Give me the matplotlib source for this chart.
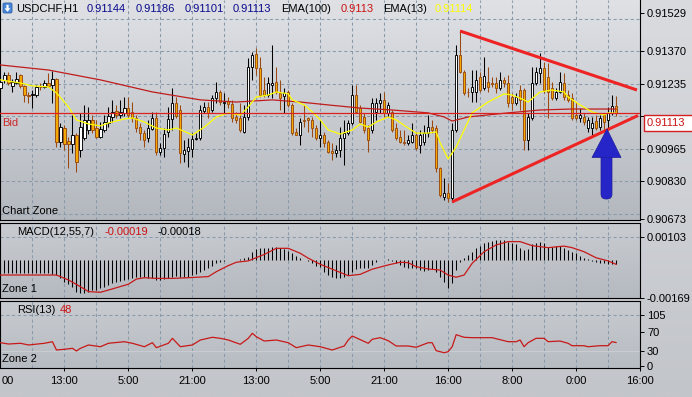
import numpy as np
import matplotlib
matplotlib.use("Agg")
import matplotlib.pyplot as plt
from matplotlib.patches import Rectangle, Polygon, FancyBboxPatch
from matplotlib.colors import to_rgb

plt.rcParams['font.family'] = ['Liberation Sans', 'DejaVu Sans']

# ---------------- data (USDCHF H1) ----------------
opens = [
    0.91218, 0.91252, 0.91272, 0.91227, 0.91239, 0.91272, 0.91227, 0.91189, 0.91189, 0.91189,
    0.91223, 0.91223, 0.91239, 0.91231, 0.91256, 0.90994, 0.91052, 0.90998, 0.90986, 0.91023,
    0.90961, 0.91011, 0.91044, 0.91086, 0.91052, 0.91015, 0.91044, 0.91073, 0.91098, 0.91123,
    0.91106, 0.91115, 0.91135, 0.91119, 0.91094, 0.91056, 0.91031, 0.91011, 0.91048, 0.91094,
    0.90953, 0.90969, 0.91036, 0.91090, 0.91156, 0.91127, 0.90944, 0.90957, 0.90965, 0.91007,
    0.91011, 0.91123, 0.91140, 0.91127, 0.91177, 0.91202, 0.91156, 0.91164, 0.91152, 0.91098,
    0.91094, 0.91036, 0.91098, 0.91306, 0.91360, 0.91302, 0.91210, 0.91189, 0.91231, 0.91243,
    0.91198, 0.91185, 0.91202, 0.91148, 0.91036, 0.91023, 0.91086, 0.91094, 0.91086, 0.91052,
    0.91011, 0.91023, 0.90994, 0.90957, 0.90948, 0.90961, 0.91011, 0.91031, 0.91073, 0.91189,
    0.91135, 0.91098, 0.91052, 0.91044, 0.91119, 0.91156, 0.91169, 0.91115, 0.91119, 0.91052,
    0.91015, 0.90994, 0.90990, 0.90994, 0.91023, 0.90982, 0.90994, 0.91031, 0.91056, 0.91052,
    0.90886, 0.90766, 0.90782, 0.90762, 0.91044, 0.91356, 0.91285, 0.91202, 0.91202, 0.91202,
    0.91264, 0.91218, 0.91243, 0.91239, 0.91239, 0.91218, 0.91252, 0.91239, 0.91181, 0.91156,
    0.91210, 0.91210, 0.91002, 0.91094, 0.91239, 0.91281, 0.91302, 0.91264, 0.91218, 0.91177,
    0.91202, 0.91239, 0.91189, 0.91177, 0.91106, 0.91094, 0.91098, 0.91052, 0.91052, 0.91081,
    0.91056, 0.91106, 0.91086, 0.91115, 0.91144]
highs = [
    0.91260, 0.91285, 0.91285, 0.91256, 0.91285, 0.91277, 0.91231, 0.91202, 0.91210, 0.91231,
    0.91239, 0.91252, 0.91281, 0.91289, 0.91260, 0.91073, 0.91065, 0.91015, 0.91106, 0.91031,
    0.91115, 0.91148, 0.91140, 0.91106, 0.91086, 0.91077, 0.91106, 0.91140, 0.91169, 0.91148,
    0.91169, 0.91181, 0.91181, 0.91160, 0.91106, 0.91073, 0.91044, 0.91086, 0.91119, 0.91119,
    0.90990, 0.91052, 0.91140, 0.91218, 0.91181, 0.91148, 0.91002, 0.91011, 0.91031, 0.91031,
    0.91148, 0.91160, 0.91160, 0.91189, 0.91243, 0.91210, 0.91198, 0.91181, 0.91169, 0.91119,
    0.91156, 0.91148, 0.91343, 0.91368, 0.91385, 0.91347, 0.91264, 0.91264, 0.91397, 0.91306,
    0.91252, 0.91218, 0.91210, 0.91156, 0.91052, 0.91094, 0.91148, 0.91098, 0.91098, 0.91065,
    0.91086, 0.91036, 0.91002, 0.90990, 0.90982, 0.91056, 0.91086, 0.91086, 0.91231, 0.91231,
    0.91148, 0.91115, 0.91065, 0.91177, 0.91177, 0.91198, 0.91202, 0.91160, 0.91127, 0.91073,
    0.91044, 0.91044, 0.91023, 0.91073, 0.91036, 0.91044, 0.91065, 0.91106, 0.91086, 0.91065,
    0.90890, 0.90845, 0.90824, 0.91073, 0.91397, 0.91459, 0.91293, 0.91218, 0.91293, 0.91293,
    0.91285, 0.91347, 0.91306, 0.91264, 0.91264, 0.91285, 0.91264, 0.91272, 0.91198, 0.91198,
    0.91231, 0.91218, 0.91115, 0.91306, 0.91306, 0.91364, 0.91326, 0.91322, 0.91243, 0.91218,
    0.91285, 0.91281, 0.91210, 0.91198, 0.91160, 0.91135, 0.91115, 0.91098, 0.91098, 0.91106,
    0.91106, 0.91115, 0.91140, 0.91189, 0.91186]
lows = [
    0.91202, 0.91239, 0.91231, 0.91202, 0.91235, 0.91218, 0.91160, 0.91156, 0.91135, 0.91181,
    0.91210, 0.91218, 0.91223, 0.91156, 0.90973, 0.90973, 0.90961, 0.90886, 0.90948, 0.90870,
    0.90932, 0.91002, 0.91027, 0.91031, 0.91011, 0.91011, 0.91036, 0.91056, 0.91077, 0.91094,
    0.91094, 0.91102, 0.91094, 0.91077, 0.91036, 0.91002, 0.90973, 0.90994, 0.91044, 0.90940,
    0.90940, 0.90932, 0.91015, 0.91044, 0.91094, 0.90907, 0.90911, 0.90890, 0.90932, 0.91002,
    0.91002, 0.91115, 0.91094, 0.91119, 0.91156, 0.91148, 0.91115, 0.91135, 0.91077, 0.91073,
    0.91036, 0.91031, 0.91086, 0.91252, 0.91272, 0.91181, 0.91181, 0.91181, 0.91177, 0.91194,
    0.91127, 0.91115, 0.91140, 0.91023, 0.91023, 0.90982, 0.91056, 0.91036, 0.91015, 0.91002,
    0.90973, 0.90973, 0.90948, 0.90919, 0.90932, 0.90932, 0.90899, 0.91023, 0.91065, 0.91115,
    0.91073, 0.91031, 0.90953, 0.91031, 0.91086, 0.91115, 0.91098, 0.91098, 0.91036, 0.91002,
    0.90990, 0.90982, 0.90982, 0.90990, 0.90961, 0.90948, 0.90982, 0.91015, 0.91031, 0.90870,
    0.90766, 0.90753, 0.90745, 0.90745, 0.91036, 0.91281, 0.91189, 0.91181, 0.91160, 0.91160,
    0.91202, 0.91210, 0.91202, 0.91223, 0.91198, 0.91210, 0.91223, 0.91140, 0.91127, 0.91148,
    0.91127, 0.90961, 0.90961, 0.91086, 0.91231, 0.91239, 0.91198, 0.91094, 0.91169, 0.91169,
    0.91198, 0.91169, 0.91160, 0.91086, 0.91086, 0.91077, 0.91065, 0.91036, 0.91015, 0.91044,
    0.91044, 0.91044, 0.91052, 0.91106, 0.91101]
closes = [
    0.91243, 0.91272, 0.91239, 0.91243, 0.91256, 0.91227, 0.91189, 0.91187, 0.91194, 0.91223,
    0.91221, 0.91239, 0.91227, 0.91256, 0.90994, 0.91056, 0.90986, 0.90986, 0.91023, 0.90911,
    0.91056, 0.91086, 0.91086, 0.91044, 0.91015, 0.91048, 0.91077, 0.91102, 0.91119, 0.91106,
    0.91119, 0.91135, 0.91106, 0.91094, 0.91052, 0.91031, 0.91002, 0.91052, 0.91094, 0.90953,
    0.90969, 0.91027, 0.91090, 0.91156, 0.91102, 0.90948, 0.90961, 0.90973, 0.91007, 0.91011,
    0.91127, 0.91140, 0.91115, 0.91177, 0.91202, 0.91160, 0.91160, 0.91152, 0.91094, 0.91086,
    0.91044, 0.91098, 0.91306, 0.91356, 0.91302, 0.91189, 0.91189, 0.91239, 0.91239, 0.91202,
    0.91177, 0.91198, 0.91148, 0.91031, 0.91023, 0.91077, 0.91083, 0.91086, 0.91052, 0.91011,
    0.91023, 0.90990, 0.90953, 0.90948, 0.90961, 0.91011, 0.91031, 0.91073, 0.91189, 0.91119,
    0.91077, 0.91044, 0.91002, 0.91156, 0.91156, 0.91169, 0.91115, 0.91148, 0.91044, 0.91011,
    0.90994, 0.90990, 0.91002, 0.91023, 0.90969, 0.91023, 0.91031, 0.91056, 0.91044, 0.90886,
    0.90774, 0.90782, 0.90762, 0.91044, 0.91356, 0.91285, 0.91198, 0.91200, 0.91223, 0.91252,
    0.91210, 0.91268, 0.91223, 0.91235, 0.91218, 0.91252, 0.91239, 0.91156, 0.91156, 0.91181,
    0.91169, 0.91002, 0.91098, 0.91239, 0.91285, 0.91302, 0.91210, 0.91202, 0.91177, 0.91202,
    0.91243, 0.91181, 0.91169, 0.91094, 0.91094, 0.91106, 0.91077, 0.91086, 0.91073, 0.91052,
    0.91094, 0.91077, 0.91115, 0.91144, 0.91113]

ema13_idx = [0, 5, 8, 12, 14, 17, 19, 22, 25, 27, 31, 33, 36, 39, 42, 44, 47, 48, 51, 54,
             57, 60, 62, 64, 67, 69, 72, 73, 76, 78, 80, 82, 85, 88, 90, 92, 94, 97, 99, 102,
             104, 107, 109, 110, 112, 114, 116, 118, 122, 126, 128, 131, 132, 135, 138, 141,
             142, 145, 148, 151, 152, 154]
ema13_val = [0.91252, 0.91239, 0.91227, 0.91223, 0.91198, 0.91140, 0.91086, 0.91069, 0.91061,
             0.91073, 0.91090, 0.91094, 0.91077, 0.91052, 0.91044, 0.91052, 0.91031, 0.91023,
             0.91056, 0.91098, 0.91115, 0.91106, 0.91140, 0.91181, 0.91189, 0.91202, 0.91194,
             0.91169, 0.91148, 0.91119, 0.91086, 0.91044, 0.91027, 0.91044, 0.91069, 0.91056,
             0.91077, 0.91098, 0.91086, 0.91052, 0.91031, 0.91031, 0.91036, 0.90990, 0.90924,
             0.90973, 0.91044, 0.91115, 0.91160, 0.91194, 0.91189, 0.91169, 0.91160, 0.91202,
             0.91210, 0.91202, 0.91181, 0.91148, 0.91119, 0.91106, 0.91115, 0.91114]

ema100_idx = [0, 12, 25, 38, 50, 59, 68, 75, 82, 90, 98, 107, 111, 113, 117, 127, 135, 143, 154]
ema100_val = [0.91314, 0.91293, 0.91252, 0.91202, 0.91169, 0.91160, 0.91169, 0.91160, 0.91148,
              0.91135, 0.91127, 0.91115, 0.91098, 0.91081, 0.91098, 0.91115, 0.91127, 0.91131,
              0.91131]

bid_price = 0.91113
upper_line_idx = [115, 159.25]
upper_line_val = [0.91455, 0.91210]
lower_line_idx = [113, 159.5]
lower_line_val = [0.90745, 0.91104]

macd_hist = [
    -0.00058, -0.00058, -0.00058, -0.00058, -0.00058, -0.00058, -0.00058, -0.00058, -0.00058, -0.00058,
    -0.00058, -0.00058, -0.00058, -0.00062, -0.00067, -0.00080, -0.00098, -0.00107, -0.00120, -0.00143,
    -0.00147, -0.00147, -0.00143, -0.00134, -0.00134, -0.00125, -0.00120, -0.00112, -0.00103, -0.00098,
    -0.00094, -0.00089, -0.00085, -0.00080, -0.00076, -0.00076, -0.00076, -0.00080, -0.00080, -0.00089,
    -0.00089, -0.00085, -0.00080, -0.00076, -0.00071, -0.00076, -0.00076, -0.00076, -0.00067, -0.00062,
    -0.00054, -0.00045, -0.00036, -0.00027, -0.00013, -0.00009, -0.00004, -0.00002, 0.00002, 0.00002,
    0.00004, 0.00007, 0.00013, 0.00036, 0.00049, 0.00054, 0.00054, 0.00054, 0.00058, 0.00058,
    0.00054, 0.00049, 0.00040, 0.00031, 0.00018, 0.00009, 0.00002, -0.00004, -0.00013, -0.00027,
    -0.00031, -0.00054, -0.00067, -0.00076, -0.00080, -0.00080, -0.00076, -0.00067, -0.00054, -0.00040,
    -0.00036, -0.00036, -0.00036, -0.00022, -0.00009, -0.00002, 0.00002, 0.00004, -0.00004, -0.00013,
    -0.00022, -0.00031, -0.00036, -0.00036, -0.00036, -0.00045, -0.00049, -0.00045, -0.00040, -0.00054,
    -0.00076, -0.00098, -0.00125, -0.00103, -0.00045, -0.00009, 0.00009, 0.00022, 0.00036, 0.00054,
    0.00062, 0.00076, 0.00080, 0.00085, 0.00089, 0.00089, 0.00089, 0.00080, 0.00076, 0.00071,
    0.00054, 0.00045, 0.00049, 0.00071, 0.00076, 0.00080, 0.00076, 0.00058, 0.00058, 0.00062,
    0.00062, 0.00054, 0.00045, 0.00036, 0.00031, 0.00018, 0.00009, 0.00004, -0.00004, -0.00009,
    -0.00013, -0.00013, -0.00018, -0.00018, -0.00018]
signal_idx = [0, 14, 17, 20, 22, 25, 27, 32, 34, 36, 39, 43, 47, 52, 54, 57, 59, 62, 66, 69,
              72, 75, 77, 80, 83, 87, 90, 93, 97, 100, 102, 104, 107, 110, 112, 114, 116, 118,
              121, 124, 127, 130, 133, 137, 141, 143, 146, 149, 152, 154]
signal_val = [-0.00067, -0.00067, -0.00089, -0.00119, -0.00141, -0.00144, -0.00134, -0.00108,
              -0.00085, -0.00079, -0.00082, -0.00082, -0.00079, -0.00074, -0.00052, -0.00025,
              -0.00010, -0.00004, 0.00025, 0.00052, 0.00052, 0.00030, 0.00008, -0.00019,
              -0.00041, -0.00070, -0.00064, -0.00041, -0.00022, -0.00010, -0.00012, -0.00030,
              -0.00040, -0.00045, -0.00067, -0.00077, -0.00067, -0.00015, 0.00037, 0.00067,
              0.00082, 0.00082, 0.00064, 0.00055, 0.00062, 0.00055, 0.00037, 0.00010, -0.00004,
              -0.00019]

rsi_idx = [0, 2, 5, 7, 11, 13, 14, 16, 18, 19, 20, 22, 25, 27, 31, 33, 36, 38, 39, 42, 43, 45,
           48, 50, 53, 55, 57, 60, 62, 63, 64, 66, 69, 72, 74, 77, 80, 83, 86, 87, 88, 92, 93,
           95, 97, 99, 102, 104, 107, 108, 109, 111, 112, 113, 114, 116, 118, 123, 127, 129,
           130, 131, 132, 134, 136, 137, 140, 142, 143, 146, 147, 150, 152, 153, 154]
rsi_val = [47.6, 44.9, 46.4, 42.9, 46.4, 49.7, 32.5, 34.0, 36.0, 30.4, 36.0, 42.9, 39.3, 46.4,
           49.7, 46.4, 39.3, 47.6, 37.3, 46.4, 56.7, 39.3, 42.9, 53.2, 58.8, 56.7, 53.2, 44.3,
           56.7, 67.1, 60.0, 51.1, 53.2, 47.6, 37.3, 42.9, 39.3, 32.5, 40.8, 53.2, 61.5, 46.4,
           54.7, 58.0, 51.8, 40.8, 40.8, 38.1, 47.6, 47.6, 31.1, 26.9, 29.0, 39.3, 64.2, 58.8,
           58.0, 58.0, 49.7, 49.7, 53.2, 39.3, 47.6, 56.7, 56.7, 49.7, 51.1, 46.4, 41.4, 41.4,
           39.3, 41.4, 41.4, 49.7, 48.0]

time_tick_idx = [16, 32, 48, 64, 80, 96, 112, 128, 144, 160]
time_tick_labels = ["13:00", "5:00", "21:00", "13:00", "5:00", "21:00", "16:00", "8:00", "0:00", "16:00"]
price_ticks = [0.91529, 0.91370, 0.91235, 0.91100, 0.90965, 0.90830, 0.90673]
price_grid = [0.91505, 0.91370, 0.91235, 0.91100, 0.90965, 0.90830, 0.90695]
macd_ticks = [0.00103, -0.00169]
rsi_ticks = [105, 70, 30, 0]

# ---------------- figure ----------------
W, H = 692, 397
fig = plt.figure(figsize=(W / 100, H / 100), dpi=100)


def gradient(ax, ctop, cbot):
    a = np.array(to_rgb(ctop))
    b = np.array(to_rgb(cbot))
    t = np.linspace(0, 1, 256)[:, None, None]
    img = a[None, None, :] * (1 - t) + b[None, None, :] * t
    ax.imshow(img, extent=[0, 1, 0, 1], transform=ax.transAxes, aspect='auto',
              zorder=0, interpolation='bilinear')


def px_axes(top, bottom, left=0, right=640):
    return fig.add_axes([left / W, 1 - bottom / H, (right - left) / W, (bottom - top) / H])


bg = fig.add_axes([0, 0, 1, 1])
gradient(bg, '#d9dbdf', '#c2c5ca')
bg.set_xlim(0, 1); bg.set_ylim(0, 1)
bg.axis('off')

XLIM = (-0.125, 160.0)
GRID_C = '#8a9aab'
DASH = (0, (3, 2.5))
grid_x = np.arange(8, 160, 8)

# ---- main price panel ----
ax = px_axes(0, 220)
gradient(ax, '#dfe1e5', '#b3b8be')
for gx in grid_x:
    ax.axvline(gx, color=GRID_C, lw=0.75, ls=DASH, zorder=1)
for gy in price_grid:
    ax.axhline(gy, color=GRID_C, lw=0.75, ls=DASH, zorder=1)

idx = np.arange(len(closes))
o = np.array(opens); c = np.array(closes); h = np.array(highs); l = np.array(lows)
bull = c >= o
wick_col = np.where(bull, '#000000', '#9a4a10')
ax.vlines(idx, l, h, colors=wick_col, lw=0.75, zorder=3)
body_lo = np.minimum(o, c)
body_h = np.maximum(np.abs(c - o), 0.00002)
ax.bar(idx[bull], body_h[bull], bottom=body_lo[bull], width=0.55, color='#ffffff',
       edgecolor='#000000', linewidth=0.65, zorder=4)
ax.bar(idx[~bull], body_h[~bull], bottom=body_lo[~bull], width=0.55, color='#f2a900',
       edgecolor='#9a4a10', linewidth=0.65, zorder=4)

ax.plot(ema100_idx, ema100_val, color='#c01c1c', lw=0.9, zorder=5)
ax.plot(ema13_idx, ema13_val, color='#ffff00', lw=0.9, zorder=5)
ax.axhline(bid_price, color='#dd2020', lw=0.9, zorder=5)
ax.plot(upper_line_idx, upper_line_val, color='#ee2424', lw=2.2, zorder=6, solid_capstyle='butt')
ax.plot(lower_line_idx, lower_line_val, color='#ee2424', lw=2.2, zorder=6, solid_capstyle='butt')

ax.set_xlim(*XLIM)
ax.set_ylim(0.906700, 0.915839)
ax.yaxis.tick_right()
ax.set_yticks(price_ticks)
# the 0.91100 label sits under the bid-price box in the reference, so only its tick shows
ax.set_yticklabels(["" if v == bid_price - 0.00013 or abs(v - 0.91100) < 1e-9 else f"{v:.5f}"
                    for v in price_ticks])
ax.tick_params(axis='y', length=3, width=0.7, pad=2, labelsize=8, colors='black')
ax.tick_params(axis='x', bottom=False, labelbottom=False)
for s in ['left', 'right', 'bottom']:
    ax.spines[s].set_color('black'); ax.spines[s].set_linewidth(0.8)
ax.spines['top'].set_visible(False)

# ---- MACD panel ----
ax2 = px_axes(223, 298)
gradient(ax2, '#c9ccd1', '#b5bac0')
for gx in grid_x:
    ax2.axvline(gx, color=GRID_C, lw=0.75, ls=DASH, zorder=1)
ax2.axhline(macd_ticks[0], color=GRID_C, lw=0.75, ls=DASH, zorder=1)
ax2.vlines(idx, 0, macd_hist, colors='black', lw=0.75, zorder=3)
ax2.plot(signal_idx, signal_val, color='#c81818', lw=0.9, zorder=4)
ax2.set_xlim(*XLIM)
ax2.set_ylim(-0.001695, 0.00165)
ax2.yaxis.tick_right()
ax2.set_yticks(macd_ticks)
ax2.set_yticklabels(["0.00103", "-0.00169"])
ax2.tick_params(axis='y', length=3, width=0.7, pad=2, labelsize=8)
ax2.tick_params(axis='x', bottom=False, labelbottom=False)
for s in ax2.spines.values():
    s.set_color('black'); s.set_linewidth(0.8)

# ---- RSI panel ----
ax3 = px_axes(301, 368)
gradient(ax3, '#c8cbd0', '#b7bcc2')
for gx in grid_x:
    ax3.axvline(gx, color=GRID_C, lw=0.75, ls=DASH, zorder=1)
ax3.axhline(rsi_ticks[0], color=GRID_C, lw=0.75, ls=DASH, zorder=1)
ax3.axhline(rsi_ticks[2], color='#c9cdd2', lw=0.8, zorder=1)
ax3.plot(rsi_idx, rsi_val, color='#c81818', lw=0.9, zorder=4)
ax3.set_xlim(*XLIM)
ax3.set_ylim(-4.76, 133.95)
ax3.yaxis.tick_right()
ax3.set_yticks(rsi_ticks)
ax3.set_yticklabels([str(v) for v in rsi_ticks])
ax3.tick_params(axis='y', length=3, width=0.7, pad=2, labelsize=8)
ax3.set_xticks(time_tick_idx)
ax3.set_xticklabels(time_tick_labels)
ax3.tick_params(axis='x', length=2.5, width=0.7, pad=3, labelsize=8)
for s in ax3.spines.values():
    s.set_color('black'); s.set_linewidth(0.8)

# ---- overlay (labels, annotations) in pixel coordinates ----
ov = fig.add_axes([0, 0, 1, 1])
ov.set_xlim(0, W); ov.set_ylim(H, 0)
ov.axis('off')
ov.patch.set_alpha(0)

# header icon
ov.add_patch(FancyBboxPatch((3, 3), 9, 10, boxstyle="round,pad=0,rounding_size=1.5",
                            fc='#4a86d8', ec='#2c5fa8', lw=0.6))
ov.add_patch(Polygon([(7.5, 11.8), (4.6, 8.3), (6.4, 8.3), (6.4, 4.8), (8.6, 4.8),
                      (8.6, 8.3), (10.4, 8.3)], closed=True, fc='white', ec='none'))

fs = 8
hdr_y = 8.5
ov.text(16.5, hdr_y, "USDCHF,H1", fontsize=fs, color='black', va='center', ha='left')
for xx, txt in zip([86.5, 135.8, 184.2, 232.6], ["0.91144", "0.91186", "0.91101", "0.91113"]):
    ov.text(xx, hdr_y, txt, fontsize=fs, color='#0a0a8c', va='center', ha='left')
ov.text(281.5, hdr_y, "EMA(100)", fontsize=fs, color='black', va='center', ha='left')
ov.text(340.3, hdr_y, "0.9113", fontsize=fs, color='#cc1111', va='center', ha='left')
ov.text(382.7, hdr_y, "EMA(13)", fontsize=fs, color='black', va='center', ha='left')
ov.text(434.8, hdr_y, "0.91114", fontsize=fs, color='#ffff00', va='center', ha='left')

ov.text(2.5, 123, "Bid", fontsize=fs, color='#cc2a2a', va='center', ha='left')
ov.text(2.5, 211, "Chart Zone", fontsize=fs, color='black', va='center', ha='left')
ov.text(16.7, 232, "MACD(12,55,7)", fontsize=fs, color='black', va='center', ha='left')
ov.text(104.7, 232, "-0.00019", fontsize=fs, color='#cc1111', va='center', ha='left')
ov.text(158, 232, "-0.00018", fontsize=fs, color='black', va='center', ha='left')
ov.text(2.5, 289, "Zone 1", fontsize=fs, color='black', va='center', ha='left')
ov.text(16.7, 310, "RSI(13)", fontsize=fs, color='black', va='center', ha='left')
ov.text(60, 310, "48", fontsize=fs, color='#cc1111', va='center', ha='left')
ov.text(2.5, 358.5, "Zone 2", fontsize=fs, color='black', va='center', ha='left')
ov.text(1.5, 381, "00", fontsize=fs, color='black', va='center', ha='left')

# bid price box
ov.add_patch(Rectangle((643.5, 114.5), 50, 16.5, fc='white', ec='#d42020', lw=1.0, zorder=5))
ov.text(647, 122.8, f"{bid_price:.5f}", fontsize=fs, color='#cc1111', va='center', ha='left', zorder=6)

# blue arrow annotation
ov.add_patch(FancyBboxPatch((601, 150), 11, 49, boxstyle="round,pad=0,rounding_size=5",
                            fc='#2626c8', ec='#1c1c9a', lw=0.5, zorder=5))
ov.add_patch(Polygon([(607, 129), (621, 157.5), (592, 157.5)], closed=True,
                     fc='#2626c8', ec='#1c1c9a', lw=0.5, zorder=5))

fig.savefig("out.png", dpi=100)
